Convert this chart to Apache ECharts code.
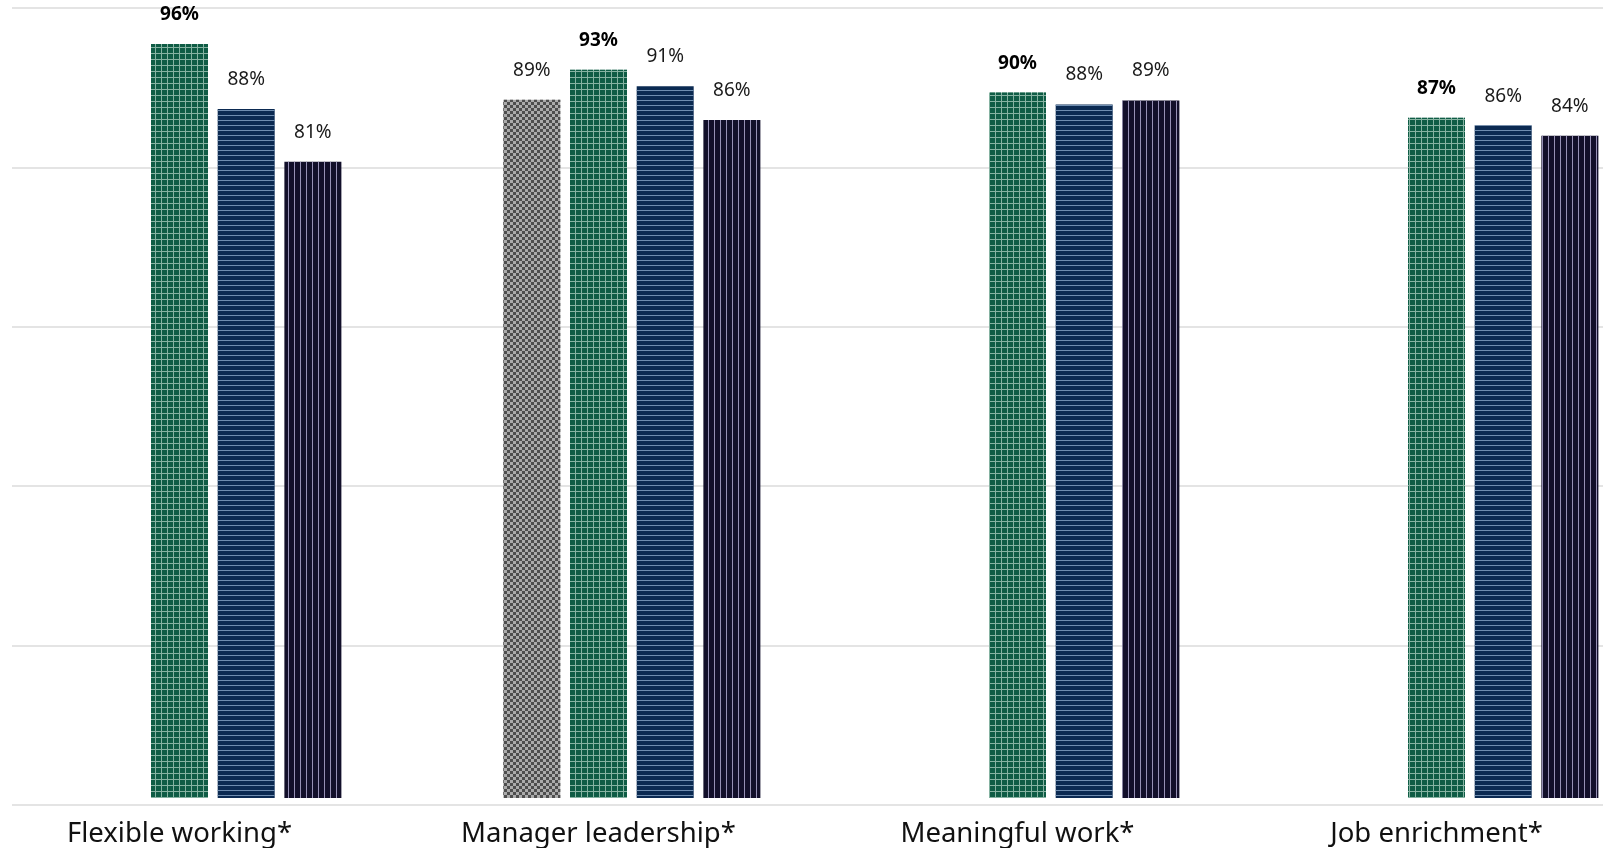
<!DOCTYPE html>
<html>
<head>
<meta charset="utf-8">
<script src="https://cdn.jsdelivr.net/npm/echarts@6/dist/echarts.min.js"></script>
<style>
  html, body { margin: 0; padding: 0; background: #fff; overflow: hidden; }
  #chart { width: 1676px; height: 848px; margin-left: -30px; }
</style>
</head>
<body>
<div id="chart"></div>
<script>
const categories = ['Flexible working*', 'Manager leadership*', 'Meaningful work*', 'Job enrichment*'];
const seriesNames = ['(not shown)', 'Group A', 'Group B', 'Group C', 'Group D'];
const valuesPlaceholder = [null, null, null, null];
const valuesGray  = [null, 88.9, null, null];
const valuesGreen = [96.0, 92.7, 89.8, 86.6];
const valuesNavy  = [87.7, 90.6, 88.3, 85.6];
const valuesDark  = [81.0, 86.3, 88.8, 84.3];
const yTicks = { min: 0, max: 100, interval: 20 };

const FONT = 'Noto Sans';
const chart = echarts.init(document.getElementById('chart'), null, { renderer: 'canvas' });

function valueLabel(bold) {
  return {
    show: true,
    position: 'top',
    distance: 20,
    fontFamily: FONT,
    fontSize: 19,
    fontWeight: bold ? 'bold' : 'normal',
    color: bold ? '#000' : '#1a1a1a',
    formatter: p => (p.value == null ? '' : Math.round(p.value) + '%')
  };
}

const common = { type: 'bar', barWidth: 57, barGap: '17%', xAxisIndex: 0, yAxisIndex: 0 };

chart.setOption({
  animation: false,
  grid: [
    { left: 0, right: 0, top: 12.5, bottom: 48, containLabel: false },
    { left: 42, right: 43, top: 8, bottom: 43, containLabel: false }
  ],
  xAxis: [
    {
      type: 'category', data: categories, gridIndex: 0,
      axisLine: { show: false }, axisTick: { show: false },
      axisLabel: { fontFamily: FONT, fontSize: 27.5, color: '#111', margin: 22 }
    },
    { type: 'value', gridIndex: 1, show: false, min: 0, max: 1 }
  ],
  yAxis: [
    {
      type: 'value', gridIndex: 0, min: yTicks.min, max: yTicks.max, interval: yTicks.interval,
      show: false, splitLine: { show: false }
    },
    {
      type: 'value', gridIndex: 1, min: yTicks.min, max: yTicks.max, interval: yTicks.interval,
      axisLabel: { show: false }, axisLine: { show: false }, axisTick: { show: false },
      splitLine: { show: true, lineStyle: { color: '#e4e4e4', width: 2 } }
    }
  ],
  series: [
    Object.assign({}, common, { name: seriesNames[0], data: valuesPlaceholder }),
    Object.assign({}, common, {
      name: seriesNames[1], data: valuesGray,
      itemStyle: {
        color: '#ababab',
        decal: { symbol: 'rect', symbolSize: 1, color: '#4e4e4e',
                 dashArrayX: [[3, 3], [0, 3, 3, 0]], dashArrayY: [3, 0] }
      },
      label: valueLabel(false)
    }),
    Object.assign({}, common, {
      name: seriesNames[2], data: valuesGreen,
      itemStyle: {
        color: '#86b3a2',
        decal: { symbol: 'rect', symbolSize: 1, color: '#0f5c45',
                 dashArrayX: [5, 1], dashArrayY: [5, 1] }
      },
      label: valueLabel(true)
    }),
    Object.assign({}, common, {
      name: seriesNames[3], data: valuesNavy,
      itemStyle: {
        color: '#0b2a52',
        decal: { symbol: 'rect', symbolSize: 1, color: '#6f8db0',
                 dashArrayX: [1, 0], dashArrayY: [1, 4] }
      },
      label: valueLabel(false)
    }),
    Object.assign({}, common, {
      name: seriesNames[4], data: valuesDark,
      itemStyle: {
        color: '#120f2a',
        decal: { symbol: 'rect', symbolSize: 1, color: '#9690b5',
                 dashArrayX: [1, 5], dashArrayY: [1, 0] }
      },
      label: valueLabel(false)
    })
  ]
});
</script>
</body>
</html>
